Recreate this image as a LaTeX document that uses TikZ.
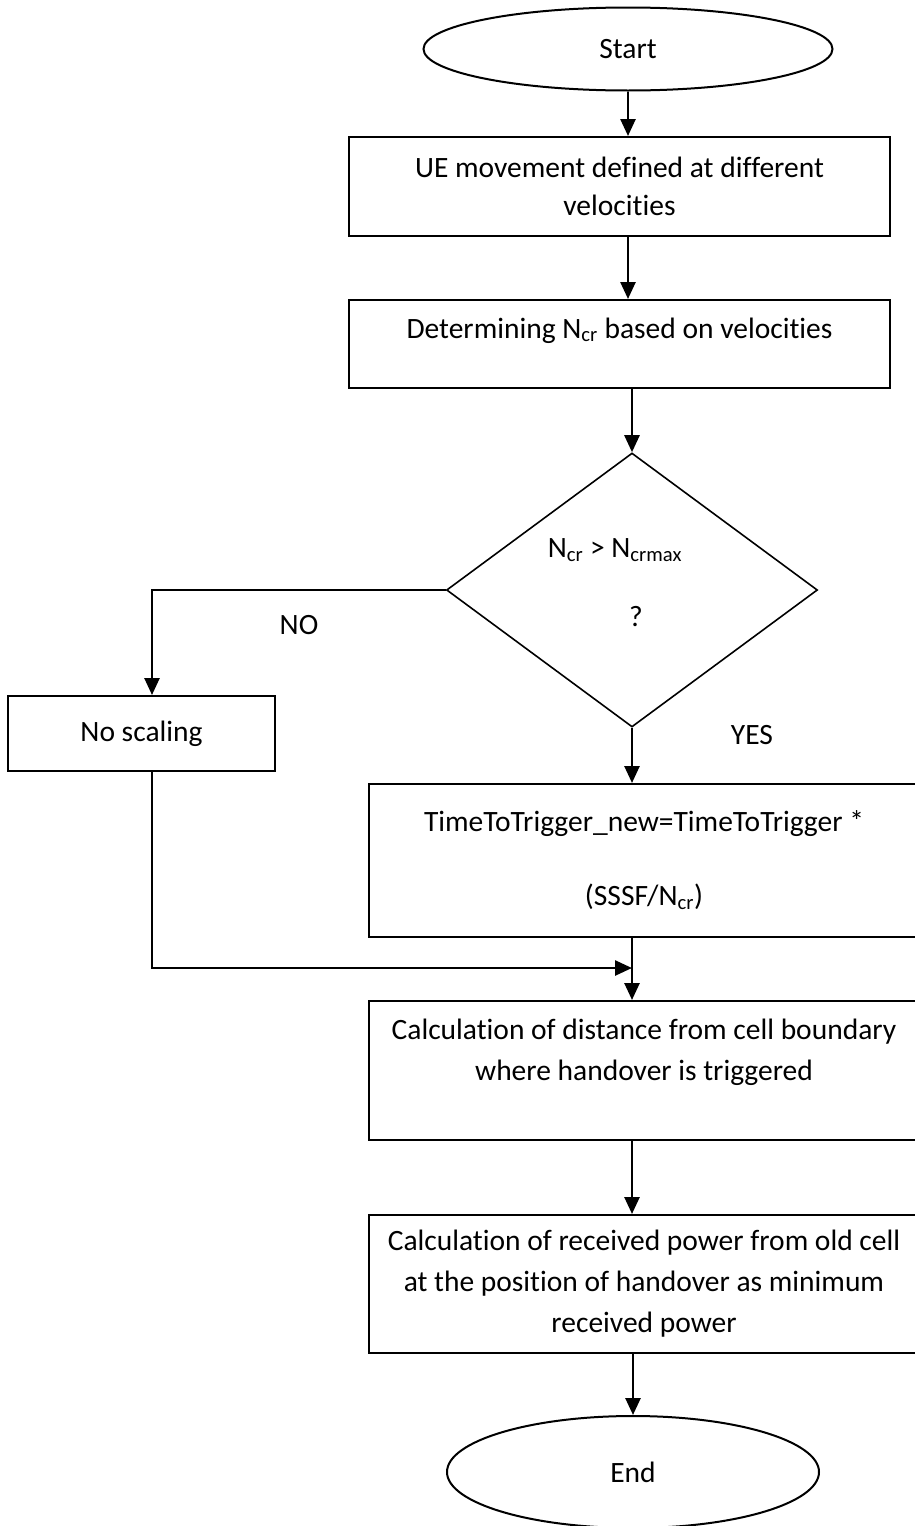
\documentclass[tikz,border=0pt]{standalone}
\usepackage{fontspec}
\setmainfont{Carlito}[Ligatures=NoCommon]
\usetikzlibrary{shapes.geometric,arrows.meta}
\begin{document}
\begin{tikzpicture}[x=1pt,y=-1pt,
  every node/.style={font=\fontsize{29.5}{38}\selectfont},
  box/.style={draw,line width=2pt,rectangle,align=center,inner sep=0pt},
  term/.style={draw,line width=2pt,ellipse,inner sep=0pt},
  flow/.style={line width=2.6pt,-{Triangle[length=17pt,width=15pt]}}]
\useasboundingbox (0,0) rectangle (915,1526);
\node[term,minimum width=409,minimum height=83] (start) at (628,49) {Start};
\node[box,minimum width=541,minimum height=99] (ue) at (619.5,186.5) {UE movement defined at different\\velocities};
\node[box,minimum width=541,minimum height=88] (det) at (619.5,344) {Determining N\textsubscript{cr} based on velocities\\[-6pt]~};
\node[draw,line width=1.6pt,diamond,inner sep=0pt,minimum width=371,minimum height=274] (dec) at (632,590) {};
\node (cond) at (615,550) {N\textsubscript{cr} > N\textsubscript{crmax}};
\node (qmark) at (636,617) {?};
\node[box,minimum width=267,minimum height=75] (noscale) at (141.5,733.5) {No scaling};
\node[box,minimum width=550,minimum height=153] (ttt) at (644,860.5) {TimeToTrigger\_new=TimeToTrigger *\\[36pt](SSSF/N\textsubscript{cr})};
\node[box,minimum width=550,minimum height=139,font=\fontsize{29.5}{41}\selectfont] (dist) at (644,1070.5) {Calculation of distance from cell boundary\\where handover is triggered\\~};
\node[box,minimum width=550,minimum height=138,font=\fontsize{29.5}{41}\selectfont] (pow) at (644,1284) {Calculation of received power from old cell\\at the position of handover as minimum\\received power};
\node[term,minimum width=372,minimum height=112] (end) at (633,1472) {End};
\node (no) at (299,625) {NO};
\node (yes) at (752,735) {YES};
\coordinate (join) at (632,968);
\draw[flow] (start.south) -- (start.south |- ue.north);
\draw[flow] (ue.south -| 628,0) -- (det.north -| 628,0);
\draw[flow] (det.south -| dec.north) -- (dec.north);
\draw[flow] (dec.west) -| (noscale.north -| 152,0);
\draw[flow] (dec.south) -- (dec.south |- ttt.north);
\draw[flow] (noscale.south -| 152,0) |- (join);
\draw[flow] (join |- ttt.south) -- (join |- dist.north);
\draw[flow] (dist.south -| join) -- (join |- pow.north);
\draw[flow] (pow.south -| end.north) -- (end.north);
\end{tikzpicture}
\end{document}
